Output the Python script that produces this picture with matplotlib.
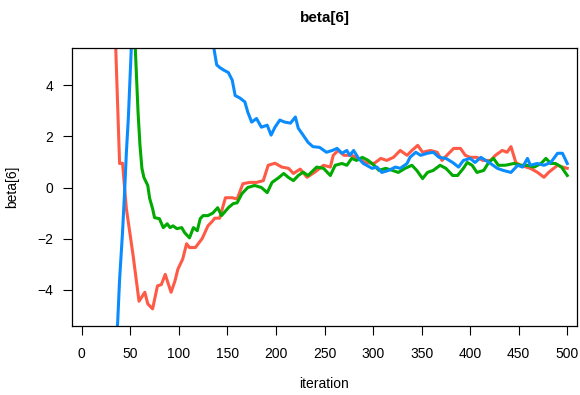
import matplotlib
matplotlib.use("Agg")
import matplotlib.pyplot as plt

plt.rcParams["font.family"] = ["Liberation Sans", "DejaVu Sans"]

# chain 1 (red)
red_iter = [1, 20, 30, 35, 39, 42, 46, 53, 59, 65, 68, 73, 78, 82, 86, 92, 96, 99,
            104, 108, 111, 117, 124, 130, 135, 137, 142, 148, 155, 160, 166, 173,
            180, 187, 192, 199, 206, 213, 218, 225, 232, 240, 249, 256, 259, 264,
            270, 278, 285, 292, 301, 308, 314, 321, 328, 335, 340, 346, 351, 359,
            366, 371, 376, 383, 390, 395, 400, 407, 413, 421, 426, 433, 438, 442,
            447, 452, 462, 469, 476, 481, 490, 495, 500]
red_val = [30, 18, 10.5, 5.5, 0.94, 0.95, -0.83, -2.68, -4.45, -4.1, -4.55, -4.75,
           -3.85, -3.8, -3.4, -4.1, -3.66, -3.2, -2.8, -2.2, -2.35, -2.35, -2.0,
           -1.5, -1.3, -1.2, -1.2, -0.4, -0.4, -0.45, 0.15, 0.2, 0.2, 0.27, 0.87,
           0.95, 0.8, 0.75, 0.55, 0.72, 0.4, 0.6, 0.87, 0.8, 1.26, 1.45, 1.26,
           1.26, 1.14, 0.98, 0.94, 1.14, 1.06, 1.18, 1.45, 1.26, 1.45, 1.65, 1.38,
           1.45, 1.38, 1.06, 1.26, 1.53, 1.53, 1.26, 1.18, 1.18, 1.06, 1.06, 1.26,
           1.45, 1.38, 1.6, 0.98, 0.87, 0.75, 0.6, 0.4, 0.6, 0.87, 0.8, 0.75]

# chain 2 (green)
green_iter = [1, 30, 45, 50, 55, 58, 60, 62, 64, 68, 70, 73, 75, 80, 84, 88, 91, 94,
              98, 103, 106, 111, 115, 119, 122, 125, 130, 135, 140, 144, 151, 156,
              160, 165, 171, 178, 185, 191, 196, 203, 208, 213, 218, 223, 228, 233,
              242, 249, 256, 261, 268, 273, 278, 283, 289, 295, 301, 306, 313, 320,
              326, 333, 340, 345, 351, 356, 362, 369, 375, 382, 387, 393, 397, 402,
              407, 414, 419, 424, 429, 436, 445, 452, 459, 466, 473, 478, 483, 488,
              494, 500]
green_val = [35, 20, 12, 9, 5.6, 2.95, 1.65, 0.75, 0.4, 0.08, -0.43, -0.83, -1.18,
             -1.22, -1.57, -1.42, -1.57, -1.5, -1.61, -1.57, -1.77, -1.97, -1.57,
             -1.69, -1.22, -1.1, -1.1, -1.0, -0.79, -1.1, -0.79, -0.63, -0.6, -0.24,
             0.0, 0.08, 0.0, -0.2, 0.2, 0.39, 0.55, 0.39, 0.27, 0.47, 0.6, 0.47, 0.8,
             0.75, 0.47, 0.87, 0.94, 0.87, 1.14, 1.06, 1.18, 1.06, 0.87, 0.67, 0.75,
             0.67, 0.59, 0.75, 0.87, 0.67, 0.35, 0.59, 0.67, 0.87, 0.75, 0.47, 0.47,
             0.75, 0.98, 0.87, 0.59, 0.67, 0.98, 1.14, 0.87, 0.87, 0.94, 0.87, 0.87,
             0.8, 0.94, 1.14, 0.94, 0.94, 0.8, 0.47]

# chain 3 (blue)
blue_iter = [1, 20, 30, 35, 37, 39, 42, 44, 46, 48, 50, 51, 55, 70, 90, 110, 125,
             132, 136, 139, 142, 146, 151, 155, 158, 163, 168, 171, 175, 180, 185,
             191, 195, 199, 204, 209, 215, 220, 223, 228, 233, 238, 245, 252, 258,
             263, 268, 273, 276, 280, 285, 290, 299, 304, 309, 316, 323, 328, 335,
             338, 344, 349, 356, 362, 368, 375, 382, 388, 393, 400, 405, 411, 416,
             421, 428, 434, 442, 449, 454, 459, 462, 469, 476, 483, 490, 495, 500]
blue_val = [-30, -18, -10, -6.2, -5.3, -3.6, -1.77, -0.3, 1.38, 2.7, 4.5, 5.4, 8,
            11, 12, 10, 7.5, 6.3, 5.47, 4.8, 4.7, 4.6, 4.5, 4.2, 3.6, 3.5, 3.35,
            2.95, 2.56, 2.7, 2.36, 2.44, 2.05, 2.36, 2.64, 2.56, 2.52, 2.76, 2.32,
            2.05, 1.77, 1.6, 1.57, 1.38, 1.45, 1.53, 1.34, 1.45, 1.26, 1.45, 1.14,
            0.94, 0.75, 0.8, 0.59, 0.67, 0.8, 0.75, 0.94, 1.18, 1.38, 1.26, 1.34,
            1.38, 1.18, 1.14, 0.98, 0.8, 1.06, 1.14, 0.98, 1.18, 1.06, 0.94, 0.75,
            0.67, 0.59, 0.87, 0.8, 1.14, 0.87, 0.94, 0.87, 0.98, 1.34, 1.34, 0.94]

x_ticks = [0, 50, 100, 150, 200, 250, 300, 350, 400, 450, 500]
y_ticks = [-4, -2, 0, 2, 4]

fig = plt.figure(figsize=(5.8, 3.95), dpi=100)
ax = fig.add_axes([72 / 580, 69 / 395, 505 / 580, 278 / 395])

ax.plot(red_iter, red_val, color="#FF5A45", lw=2.2)
ax.plot(green_iter, green_val, color="#00AA00", lw=2.2)
ax.plot(blue_iter, blue_val, color="#0A8CFF", lw=2.2)

ax.set_xlim(-10, 510)
ax.set_ylim(-5.42, 5.46)
ax.set_xticks(x_ticks)
ax.set_yticks(y_ticks)
ax.set_yticklabels(["\u22124", "\u22122", "0", "2", "4"])
ax.tick_params(direction="out", length=6.5, width=0.8, labelsize=10)
ax.tick_params(axis="x", pad=8.5)
ax.tick_params(axis="y", pad=7)
for s in ax.spines.values():
    s.set_linewidth(0.9)

fig.text(324.5 / 580, 1 - 18 / 395, "beta[6]", ha="center", va="center",
         fontsize=11, fontweight="bold")
fig.text(324.5 / 580, 1 - 384 / 395, "iteration", ha="center", va="center",
         fontsize=10)
fig.text(12 / 580, 1 - 187 / 395, "beta[6]", ha="center", va="center",
         fontsize=10, rotation=90)

fig.savefig("out.png", dpi=100)
